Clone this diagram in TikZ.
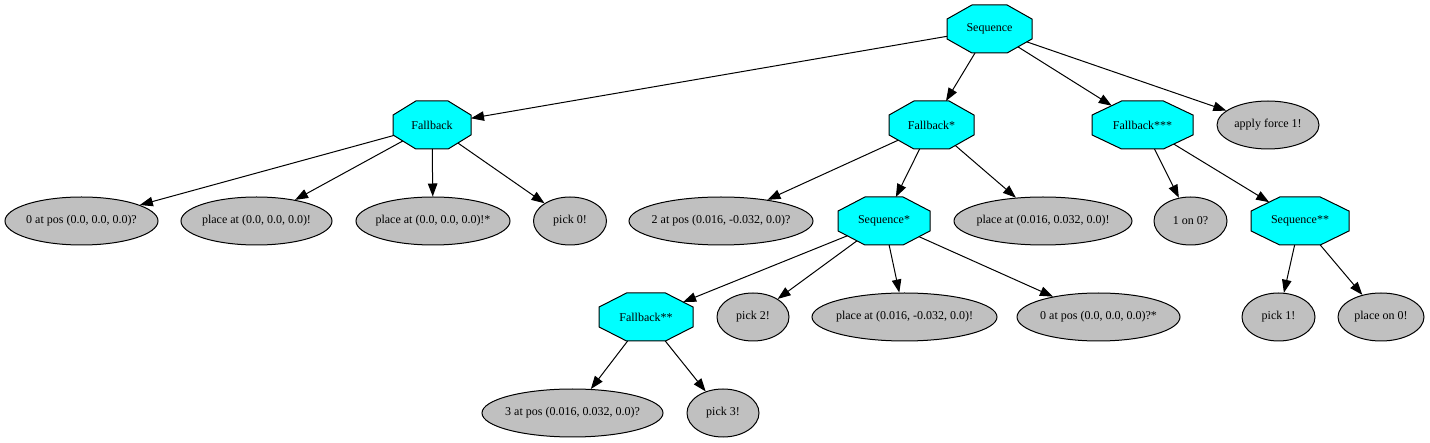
\documentclass[tikz,border=0pt]{standalone}
\usepackage{fontspec}
\setmainfont{Liberation Serif}
\usetikzlibrary{arrows.meta, shapes.geometric}
\definecolor{leafgray}{HTML}{C0C0C0}
\definecolor{ctrlcyan}{HTML}{00FFFF}

% stretched octagon: a rectangle with its corners cut off
\makeatletter
\pgfdeclareshape{octagon box}{%
  \inheritsavedanchors[from=rectangle]
  \inheritanchor[from=rectangle]{center}
  \inheritanchor[from=rectangle]{north}
  \inheritanchor[from=rectangle]{south}
  \inheritanchor[from=rectangle]{east}
  \inheritanchor[from=rectangle]{west}
  \backgroundpath{%
    \southwest \edef\oct@sx{\the\pgf@x}\edef\oct@sy{\the\pgf@y}%
    \northeast \edef\oct@nx{\the\pgf@x}\edef\oct@ny{\the\pgf@y}%
    \pgfmathsetmacro\oct@cx{0.29289*(\oct@nx-\oct@sx)}%
    \pgfmathsetmacro\oct@cy{0.29289*(\oct@ny-\oct@sy)}%
    \pgfpathmoveto{\pgfpointadd{\pgfqpoint{\oct@sx}{\oct@sy}}{\pgfpoint{\oct@cx pt}{0pt}}}%
    \pgfpathlineto{\pgfpointadd{\pgfqpoint{\oct@nx}{\oct@sy}}{\pgfpoint{-\oct@cx pt}{0pt}}}%
    \pgfpathlineto{\pgfpointadd{\pgfqpoint{\oct@nx}{\oct@sy}}{\pgfpoint{0pt}{\oct@cy pt}}}%
    \pgfpathlineto{\pgfpointadd{\pgfqpoint{\oct@nx}{\oct@ny}}{\pgfpoint{0pt}{-\oct@cy pt}}}%
    \pgfpathlineto{\pgfpointadd{\pgfqpoint{\oct@nx}{\oct@ny}}{\pgfpoint{-\oct@cx pt}{0pt}}}%
    \pgfpathlineto{\pgfpointadd{\pgfqpoint{\oct@sx}{\oct@ny}}{\pgfpoint{\oct@cx pt}{0pt}}}%
    \pgfpathlineto{\pgfpointadd{\pgfqpoint{\oct@sx}{\oct@ny}}{\pgfpoint{0pt}{-\oct@cy pt}}}%
    \pgfpathlineto{\pgfpointadd{\pgfqpoint{\oct@sx}{\oct@sy}}{\pgfpoint{0pt}{\oct@cy pt}}}%
    \pgfpathclose
  }
  \anchorborder{%
    \edef\oct@dx{\the\pgf@x}\edef\oct@dy{\the\pgf@y}%
    \southwest \edef\oct@sx{\the\pgf@x}\edef\oct@sy{\the\pgf@y}%
    \northeast \edef\oct@nx{\the\pgf@x}\edef\oct@ny{\the\pgf@y}%
    \pgfmathsetmacro\oct@u{abs(\oct@dx)/((\oct@nx-\oct@sx)/2)}%
    \pgfmathsetmacro\oct@v{abs(\oct@dy)/((\oct@ny-\oct@sy)/2)}%
    \pgfmathsetmacro\oct@m{max(\oct@u,\oct@v,(\oct@u+\oct@v)/1.41421)}%
    \pgfmathsetmacro\oct@rx{(\oct@sx+\oct@nx)/2+\oct@dx/\oct@m}%
    \pgfmathsetmacro\oct@ry{(\oct@sy+\oct@ny)/2+\oct@dy/\oct@m}%
    \pgf@x=\oct@rx pt\relax
    \pgf@y=\oct@ry pt\relax
  }
}
\makeatother

\tikzstyle{leaf} = [ellipse, draw=black, fill=leafgray, minimum width=72pt, minimum height=48pt, inner xsep=-30pt]
\tikzstyle{ctrl} = [octagon box, inner xsep=0pt, inner ysep=2pt, minimum height=48pt, outer sep=0pt, draw=black, fill=ctrlcyan]
\tikzstyle{arrow} = [line width=1pt, -{Triangle[length=13pt, width=9.5pt]}]

\begin{document}
\begin{tikzpicture}[
            x=1pt, y=-1pt,
            node distance=96pt,
            every node/.style={text centered, font=\fontsize{12}{14}\selectfont, line width=1pt}
        ]
            \useasboundingbox (0,0) rectangle (1430,443);

            % Nodes
            \node (seq) [ctrl, minimum width=85pt] at (989.5,29) {Sequence};
            \node (fb) [ctrl, minimum width=78pt, below of=seq, xshift=-557.5pt] {Fallback};
            \node (fbA) [ctrl, minimum width=85pt, below of=seq, xshift=-58pt] {Fallback*};
            \node (fbC) [ctrl, minimum width=101pt, below of=seq, xshift=153pt] {Fallback***};
            \node (force) [leaf, minimum width=102pt, below of=seq, xshift=278.5pt] {apply force 1!};

            \node (pos0) [leaf, minimum width=153pt, below of=fb, xshift=-350.5pt] {0 at pos (0.0, 0.0, 0.0)?};
            \node (place0) [leaf, minimum width=151pt, below of=fb, xshift=-175.5pt] {place at (0.0, 0.0, 0.0)!};
            \node (place0s) [leaf, minimum width=154pt, below of=fb, xshift=1pt] {place at (0.0, 0.0, 0.0)!*};
            \node (pick0) [leaf, minimum width=73pt, below of=fb, xshift=138pt] {pick 0!};

            \node (pos2) [leaf, minimum width=184pt, below of=fbA, xshift=-210.5pt] {2 at pos (0.016, -0.032, 0.0)?};
            \node (seqA) [ctrl, minimum width=92pt, below of=fbA, xshift=-47.5pt] {Sequence*};
            \node (place1) [leaf, minimum width=178pt, below of=fbA, xshift=111.5pt] {place at (0.016, 0.032, 0.0)!};

            \node (on0) [leaf, minimum width=73pt, below of=fbC, xshift=48pt] {1 on 0?};
            \node (seqB) [ctrl, minimum width=98pt, below of=fbC, xshift=157.5pt] {Sequence**};

            \node (fbB) [ctrl, minimum width=94pt, below of=seqA, xshift=-238pt] {Fallback**};
            \node (pick2) [leaf, below of=seqA, xshift=-131pt] {pick 2!};
            \node (place2) [leaf, minimum width=185pt, below of=seqA, xshift=20.5pt] {place at (0.016, -0.032, 0.0)!};
            \node (pos0s) [leaf, minimum width=163pt, below of=seqA, xshift=214.5pt] {0 at pos (0.0, 0.0, 0.0)?*};

            \node (pick1) [leaf, minimum width=73pt, below of=seqB, xshift=-21.5pt] {pick 1!};
            \node (placeon) [leaf, minimum width=86pt, below of=seqB, xshift=81pt] {place on 0!};

            \node (pos3) [leaf, minimum width=181pt, below of=fbB, xshift=-73.5pt] {3 at pos (0.016, 0.032, 0.0)?};
            \node (pick3) [leaf, below of=fbB, xshift=77pt] {pick 3!};

            % Arrows
            \draw [arrow] (seq) -- (fb);
            \draw [arrow] (seq) -- (fbA);
            \draw [arrow] (seq) -- (fbC);
            \draw [arrow] (seq) -- (force);
            \draw [arrow] (fb) -- (pos0);
            \draw [arrow] (fb) -- (place0);
            \draw [arrow] (fb) -- (place0s);
            \draw [arrow] (fb) -- (pick0);
            \draw [arrow] (fbA) -- (pos2);
            \draw [arrow] (fbA) -- (seqA);
            \draw [arrow] (fbA) -- (place1);
            \draw [arrow] (seqA) -- (fbB);
            \draw [arrow] (seqA) -- (pick2);
            \draw [arrow] (seqA) -- (place2);
            \draw [arrow] (seqA) -- (pos0s);
            \draw [arrow] (fbB) -- (pos3);
            \draw [arrow] (fbB) -- (pick3);
            \draw [arrow] (fbC) -- (on0);
            \draw [arrow] (fbC) -- (seqB);
            \draw [arrow] (seqB) -- (pick1);
            \draw [arrow] (seqB) -- (placeon);
        \end{tikzpicture}
\end{document}
